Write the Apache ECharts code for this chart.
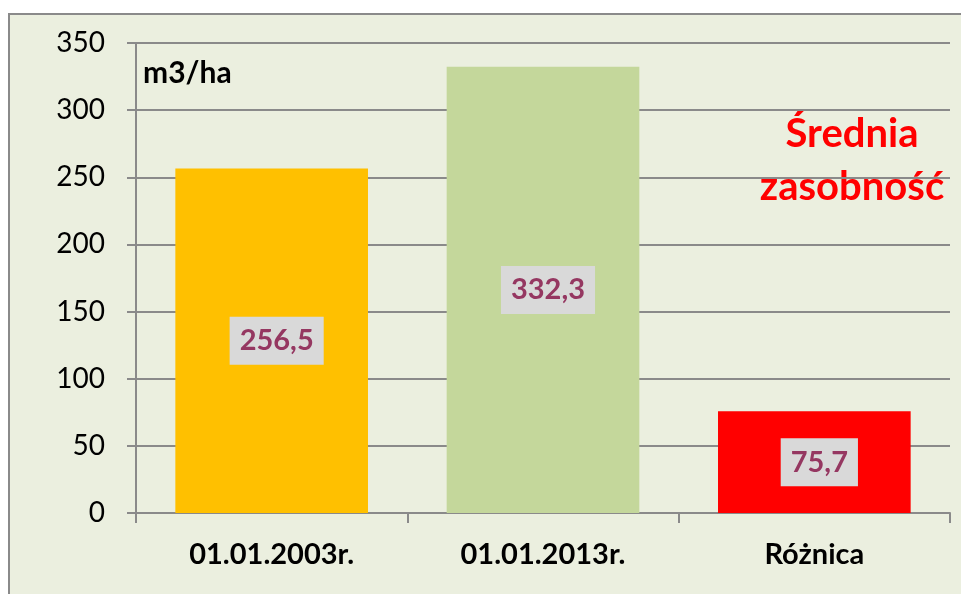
<!DOCTYPE html>
<html>
<head>
<meta charset="utf-8">
<script src="https://cdn.jsdelivr.net/npm/echarts@6/dist/echarts.min.js"></script>
<style>
  html, body { margin: 0; padding: 0; background: #fff; }
  #frame { position: absolute; left: 8px; top: 13px; width: 960px; height: 590px;
           border: 2px solid #8a8a8a; background: #ebefdf; box-sizing: border-box; }
  #chart { position: absolute; left: 0; top: 0; width: 961px; height: 594px; }
</style>
</head>
<body>
<div id="frame"></div>
<div id="chart"></div>
<script>
// dane z wykresu
const categories = ['01.01.2003r.', '01.01.2013r.', 'Różnica'];
const values = [256.5, 332.3, 75.7];
const barColors = ['#ffc000', '#c4d79b', '#ff0000'];
const yTicks = [0, 50, 100, 150, 200, 250, 300, 350];

const font = 'Lato, "Open Sans", sans-serif';

const chart = echarts.init(document.getElementById('chart'), null, { renderer: 'canvas' });

chart.setOption({
    backgroundColor: 'transparent',
    animation: false,
    grid: { left: 136, right: 11, top: 43, bottom: 81 },
    xAxis: {
        type: 'category',
        data: categories,
        axisLine: { lineStyle: { color: '#8a8a8a', width: 2 } },
        axisTick: { show: true, length: 10, lineStyle: { color: '#8a8a8a', width: 2 } },
        axisLabel: { color: '#000', fontFamily: font, fontWeight: 'bold', fontSize: 29, margin: 27 }
    },
    yAxis: {
        type: 'value',
        min: yTicks[0],
        max: yTicks[yTicks.length - 1],
        interval: 50,
        axisLine: { show: true, lineStyle: { color: '#8a8a8a', width: 2 } },
        axisTick: { show: true, length: 9, lineStyle: { color: '#8a8a8a', width: 2 } },
        axisLabel: { color: '#000', fontFamily: font, fontSize: 28, margin: 31 },
        splitLine: { lineStyle: { color: '#8a8a8a', width: 2 } }
    },
    series: [{
        type: 'bar',
        barWidth: '71%',
        data: values.map((v, i) => ({ value: v, itemStyle: { color: barColors[i] } })),
        label: {
            show: true,
            position: 'inside',
            offset: [5, 0],
            formatter: p => String(p.value).replace('.', ','),
            color: '#953761',
            fontFamily: font,
            fontWeight: 'bold',
            fontSize: 29,
            backgroundColor: '#d9d9d9',
            padding: [10, 10, 9, 10]
        }
    }],
    graphic: [
        {
            type: 'text', left: 143, top: 58,
            style: { text: 'm3/ha', fill: '#000', font: 'bold 30px ' + font }
        },
        {
            type: 'text', x: 852, y: 108,
            style: {
                text: 'Średnia\nzasobność', fill: '#ff0000', align: 'center',
                font: 'bold 40px ' + font, lineHeight: 53
            }
        }
    ]
});
</script>
</body>
</html>
